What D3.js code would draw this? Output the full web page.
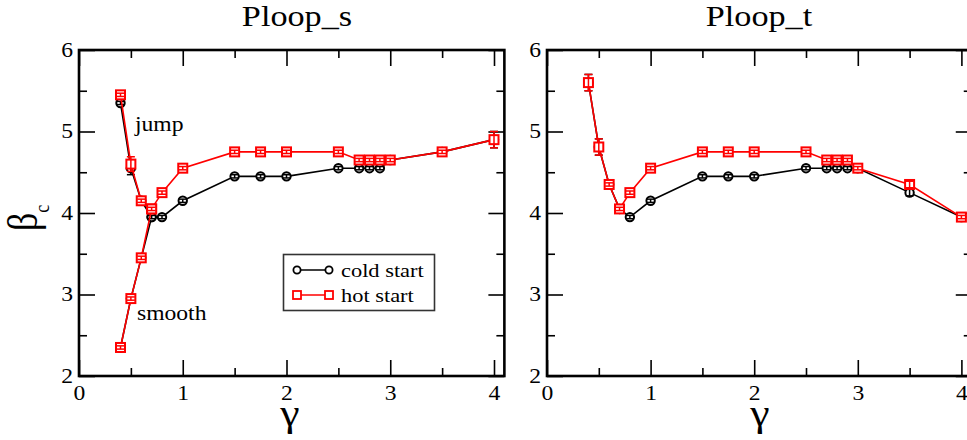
<!DOCTYPE html>
<html>
<head>
<meta charset="utf-8">
<script src="https://cdn.jsdelivr.net/npm/d3@7"></script>
<style>
  html, body { margin: 0; padding: 0; background: #fff; }
  svg { display: block; }
</style>
</head>
<body>
<svg id="chart" width="967" height="440"></svg>
<script>
// gamma values shared by both panels
const gammaJump = [0.4, 0.5, 0.6, 0.7, 0.8, 1.0, 1.5, 1.75, 2.0, 2.5, 2.7, 2.8, 2.9, 3.0, 3.5, 4.0];
const gammaSmooth = [0.4, 0.5, 0.6, 0.7];

// Ploop_s: critical beta, jump branch
const sColdJump = [5.35, 4.55, 4.15, 3.95, 3.95, 4.15, 4.45, 4.45, 4.45, 4.55, 4.55, 4.55, 4.55, 4.65, 4.75, 4.90];
const sHotJump  = [5.45, 4.60, 4.15, 4.05, 4.25, 4.55, 4.75, 4.75, 4.75, 4.75, 4.65, 4.65, 4.65, 4.65, 4.75, 4.90];
const sColdJumpErr = [0.02, 0.08, 0.02, 0.02, 0.02, 0.02, 0.02, 0.02, 0.02, 0.02, 0.02, 0.02, 0.02, 0.02, 0.02, 0.10];
const sHotJumpErr  = [0.02, 0.09, 0.02, 0.02, 0.02, 0.02, 0.02, 0.02, 0.02, 0.02, 0.02, 0.02, 0.02, 0.02, 0.02, 0.10];
// Ploop_s: smooth branch
const sColdSmooth = [2.35, 2.95, 3.45, 3.95];
const sHotSmooth  = [2.35, 2.95, 3.45, 4.05];
const sSmoothErr  = [0.02, 0.02, 0.02, 0.02];

// Ploop_t: critical beta
const tCold = [5.60, 4.81, 4.35, 4.05, 3.95, 4.15, 4.45, 4.45, 4.45, 4.55, 4.55, 4.55, 4.55, 4.55, 4.25, 3.95];
const tHot  = [5.60, 4.81, 4.35, 4.05, 4.25, 4.55, 4.75, 4.75, 4.75, 4.75, 4.65, 4.65, 4.65, 4.55, 4.35, 3.95];
const tErr  = [0.10, 0.10, 0.02, 0.02, 0.02, 0.02, 0.02, 0.02, 0.02, 0.02, 0.02, 0.02, 0.02, 0.02, 0.04, 0.02];

const xMajorTicks = [0, 1, 2, 3, 4];
const xMinorTicks = [0.5, 1.5, 2.5, 3.5];
const yMajorTicks = [2, 3, 4, 5, 6];
const yMinorTicks = [2.5, 3.5, 4.5, 5.5];
const legendLabels = ["cold start", "hot start"];
const panelTitles = ["Ploop_s", "Ploop_t"];

const COLD = "#000000", HOT = "#ff0000";
const SERIF = '"Liberation Serif", "DejaVu Serif", "Times New Roman", Times, serif';
const SX = 1.18; // horizontal stretch of the serif lettering

const svg = d3.select("#chart");

function serifText(parent, x, y, size, str) {
  return parent.append("text")
    .attr("x", x / SX).attr("y", y)
    .attr("transform", `scale(${SX},1)`)
    .attr("font-family", SERIF).attr("font-size", size).attr("fill", "#000")
    .text(str);
}

function panel(opts) {
  const x = d3.scaleLinear().domain([0, 4.1]).range([opts.left, opts.left + 4.1 * opts.unit]);
  const y = d3.scaleLinear().domain([2, 6]).range([376, 50]);
  const g = svg.append("g");

  // inward ticks on all four sides
  const axes = [
    [d3.axisBottom(x).tickValues(xMajorTicks).tickSize(-16).tickPadding(10).tickFormat(d3.format("d")), `translate(0,${y(2)})`, true],
    [d3.axisBottom(x).tickValues(xMinorTicks).tickSize(-8).tickFormat(""), `translate(0,${y(2)})`, false],
    [d3.axisTop(x).tickValues(xMajorTicks).tickSize(-16).tickFormat(""), `translate(0,${y(6)})`, false],
    [d3.axisTop(x).tickValues(xMinorTicks).tickSize(-8).tickFormat(""), `translate(0,${y(6)})`, false],
    [d3.axisLeft(y).tickValues(yMajorTicks).tickSize(-16).tickPadding(6).tickFormat(d3.format("d")), `translate(${x(0)},0)`, true],
    [d3.axisLeft(y).tickValues(yMinorTicks).tickSize(-8).tickFormat(""), `translate(${x(0)},0)`, false],
    [d3.axisRight(y).tickValues(yMajorTicks).tickSize(-16).tickFormat(""), `translate(${x(4.1)},0)`, false],
    [d3.axisRight(y).tickValues(yMinorTicks).tickSize(-8).tickFormat(""), `translate(${x(4.1)},0)`, false]
  ];
  axes.forEach(([ax, tr, labelled]) => {
    const a = g.append("g").attr("transform", tr).call(ax);
    a.attr("font-family", SERIF).attr("font-size", 20);
    a.select(".domain").remove();
    a.selectAll(".tick line").attr("stroke", "#000").attr("stroke-width", 1.6);
    if (labelled) {
      a.selectAll(".tick text").attr("fill", "#000").each(function () {
        const t = d3.select(this);
        const tx = +t.attr("x") || 0;
        t.attr("x", tx / SX).attr("transform", `scale(${SX},1)`);
      });
    } else {
      a.selectAll(".tick text").remove();
    }
  });

  // frame
  g.append("rect")
    .attr("x", x(0)).attr("y", y(6))
    .attr("width", x(4.1) - x(0)).attr("height", y(2) - y(6))
    .attr("fill", "none").attr("stroke", "#000").attr("stroke-width", 2.6);

  // title and axis label
  serifText(g, opts.titleX, 26, 29, opts.title).attr("text-anchor", "middle");
  serifText(g, opts.gammaX, 426, 37, "γ").attr("text-anchor", "middle");

  const line = d3.line().x(d => x(d[0])).y(d => y(d[1]));

  function series(gs, vals, errs, color, shape) {
    const pts = gs.map((gm, i) => [gm, vals[i], errs[i]]);
    g.append("path").attr("d", line(pts)).attr("fill", "none")
      .attr("stroke", color).attr("stroke-width", 1.6);
    const m = g.append("g");
    pts.forEach(p => {
      const cx = x(p[0]), cy = y(p[1]);
      if (shape === "circle") {
        m.append("circle").attr("cx", cx).attr("cy", cy).attr("r", 4.2)
          .attr("fill", "#fff").attr("stroke", color).attr("stroke-width", 2);
      } else {
        m.append("rect").attr("x", cx - 4.5).attr("y", cy - 4.5).attr("width", 9).attr("height", 9)
          .attr("fill", "#fff").attr("stroke", color).attr("stroke-width", 2);
      }
      const y0 = y(p[1] - p[2]), y1 = y(p[1] + p[2]);
      m.append("line").attr("x1", cx).attr("x2", cx).attr("y1", y0).attr("y2", y1)
        .attr("stroke", color).attr("stroke-width", 1.5);
      [y0, y1].forEach(yy => m.append("line").attr("x1", cx - 4).attr("x2", cx + 4)
        .attr("y1", yy).attr("y2", yy).attr("stroke", color).attr("stroke-width", 1.5));
    });
  }

  opts.series.forEach(s => series(s[0], s[1], s[2], s[3], s[4]));
  return { g, x, y };
}

// Ploop_s
panel({
  left: 79, unit: 103.75, title: panelTitles[0], titleX: 297, gammaX: 290,
  series: [
    [gammaSmooth, sColdSmooth, sSmoothErr, COLD, "circle"],
    [gammaJump, sColdJump, sColdJumpErr, COLD, "circle"],
    [gammaSmooth, sHotSmooth, sSmoothErr, HOT, "square"],
    [gammaJump, sHotJump, sHotJumpErr, HOT, "square"]
  ]
});

// Ploop_t
panel({
  left: 547, unit: 103.6, title: panelTitles[1], titleX: 759, gammaX: 760,
  series: [
    [gammaJump, tCold, tErr, COLD, "circle"],
    [gammaJump, tHot, tErr, HOT, "square"]
  ]
});

// branch annotations
serifText(svg, 135, 131, 20, "jump");
serifText(svg, 137, 320, 20, "smooth");

// y axis label: beta with subscript c
const yl = svg.append("text")
  .attr("transform", `translate(37,231) rotate(-90) scale(1,${SX})`)
  .attr("font-family", SERIF).attr("font-size", 36).attr("fill", "#000");
yl.append("tspan").text("β");
yl.append("tspan").attr("font-size", 18).attr("dy", 10).text("c");

// legend
const lg = svg.append("g");
lg.append("rect").attr("x", 283.5).attr("y", 254.5).attr("width", 151).attr("height", 56)
  .attr("fill", "#fff").attr("stroke", "#333").attr("stroke-width", 1.6);
[[COLD, "circle", 270], [HOT, "square", 295]].forEach(([color, shape, ly], i) => {
  lg.append("line").attr("x1", 297).attr("x2", 329).attr("y1", ly).attr("y2", ly)
    .attr("stroke", color).attr("stroke-width", 1.5);
  [297, 329].forEach(lx => {
    if (shape === "circle") {
      lg.append("circle").attr("cx", lx).attr("cy", ly).attr("r", 3.6)
        .attr("fill", "#fff").attr("stroke", color).attr("stroke-width", 1.8);
    } else {
      lg.append("rect").attr("x", lx - 4).attr("y", ly - 4).attr("width", 8).attr("height", 8)
        .attr("fill", "#fff").attr("stroke", color).attr("stroke-width", 1.8);
    }
  });
  serifText(lg, 341, ly + 7.5, 19, legendLabels[i]);
});
</script>
</body>
</html>
